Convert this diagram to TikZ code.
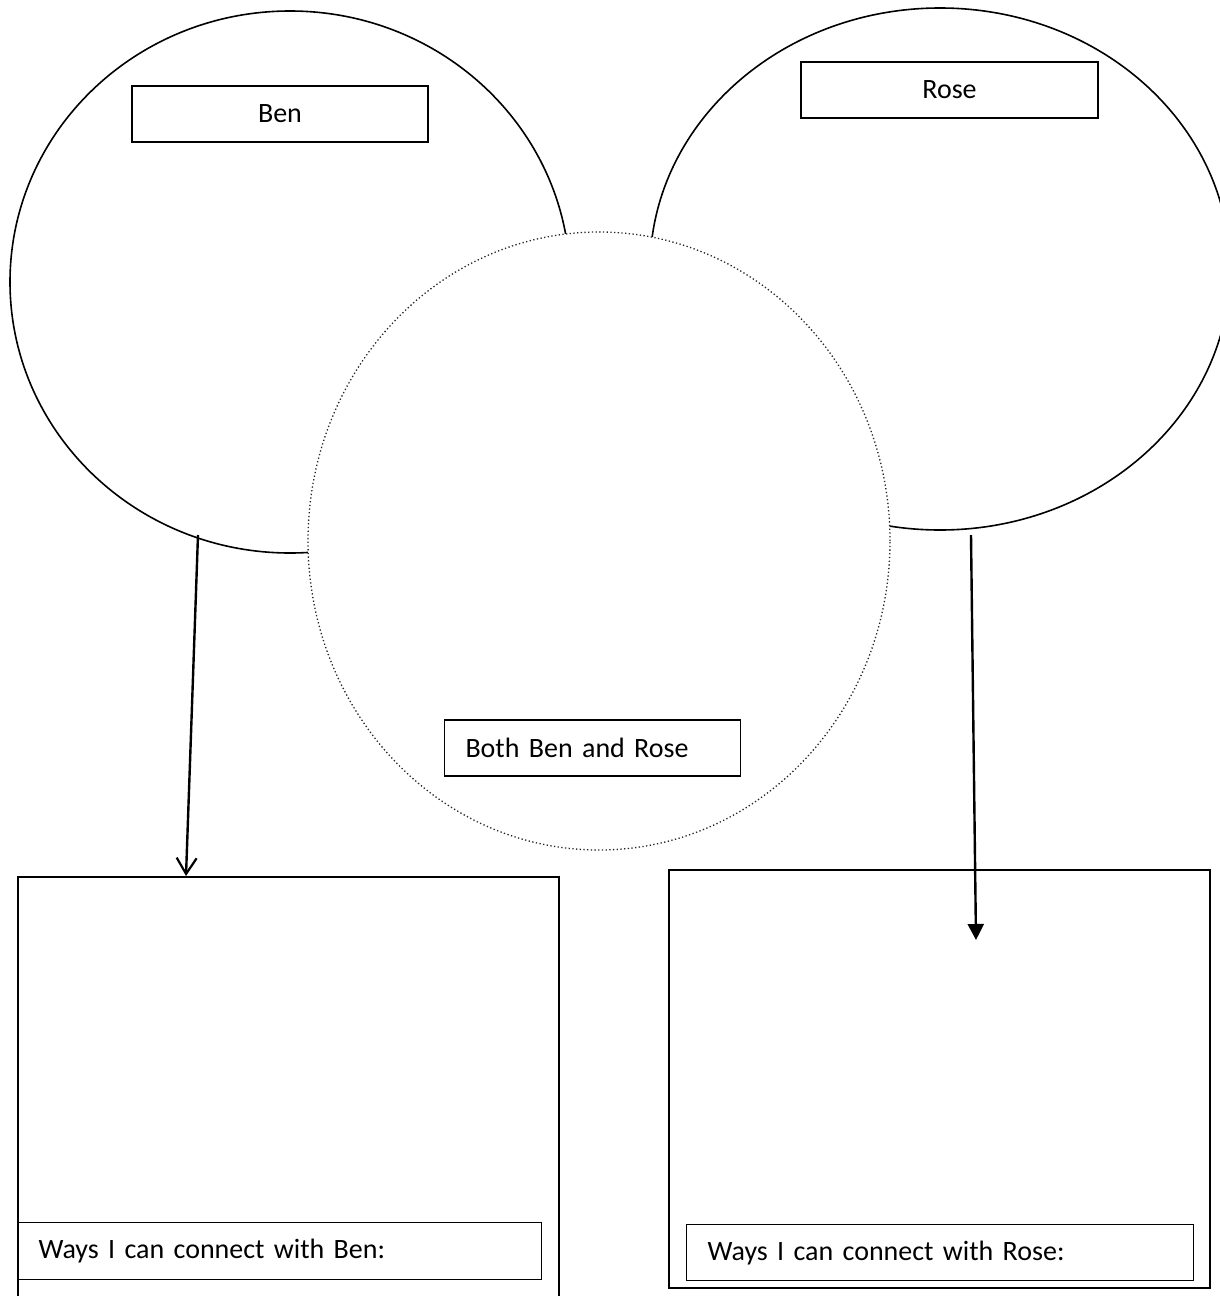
\documentclass[tikz,border=0pt]{standalone}
\usepackage{fontspec}
\setmainfont{Carlito}
\usetikzlibrary{shapes.geometric,arrows.meta}

\tikzset{
  bubble/.style={draw, ellipse, line width=1.6pt, inner sep=0pt},
  overlap/.style={draw=black!85, ellipse, fill=white, line width=1.3pt,
                  dash pattern=on 1.3pt off 2.4pt, inner sep=0pt},
  namebox/.style={draw, rectangle, line width=1.3pt, inner sep=0pt,
                  font=\fontsize{28}{33}\selectfont},
  leftbox/.style={namebox, align=left, inner xsep=21pt},
  bigbox/.style={draw, rectangle, line width=1.6pt, inner sep=0pt},
  link/.style={line width=2.4pt}
}

\begin{document}
\begin{tikzpicture}[x=1pt, y=-1pt]
  \useasboundingbox (0,0) rectangle (1219,1296);

  % the two personal circles
  \node[bubble, minimum width=560pt, minimum height=542pt] (benC) at (290,282) {};
  \node[bubble, minimum width=580pt, minimum height=522pt] (roseC) at (940,269) {};
  % the shared circle in front
  \node[overlap, minimum width=582pt, minimum height=618pt] (bothC) at (599,541) {};

  % labels
  \node[namebox, minimum width=296pt, minimum height=56pt] (benL) at (280,114) {Ben};
  \node[namebox, minimum width=297pt, minimum height=56pt] (roseL) at (949.5,90) {Rose};
  \node[leftbox, text width=254pt, minimum height=56pt] (bothL) at (592.5,748) {Both Ben and Rose};

  % lower boxes
  \node[bigbox, minimum width=541pt, minimum height=440pt, anchor=north west] (benW) at (17,876) {};
  \node[bigbox, minimum width=541pt, minimum height=418pt, anchor=north west] (roseW) at (668,869) {};
  \node[leftbox, text width=482pt, minimum height=57pt, anchor=north west] (benT) at (17,1222) {Ways I can connect with Ben:};
  \node[leftbox, text width=465pt, minimum height=56pt, anchor=north west] (roseT) at (686,1224) {Ways I can connect with Rose:};

  % arrows
  \coordinate (benFrom) at (198,535);
  \coordinate (benTo) at (186,876);
  \coordinate (roseFrom) at (971,535);
  \coordinate (roseTo) at (976,940);
  \draw[link, -{Straight Barb[length=16pt, width=20pt, line width=2.2pt]}] (benFrom) -- (benTo);
  \draw[link, -{Triangle[length=16pt, width=16pt]}] (roseFrom) -- (roseTo);
\end{tikzpicture}
\end{document}
